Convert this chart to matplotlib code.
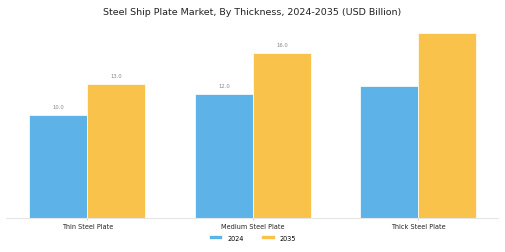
import numpy as np
import matplotlib.pyplot as plt

# --- Data ---
categories = ['Thin Steel Plate', 'Medium Steel Plate', 'Thick Steel Plate']
values_2024 = [10.0, 12.0, 12.8]
values_2035 = [13.0, 16.0, 17.9]
labelled = [True, True, False]

blue = '#5DB3E8'
yellow = '#F9C34B'

fig = plt.figure(figsize=(5.05, 2.53), dpi=100)
ax = fig.add_axes([0.012, 0.133, 0.974, 0.77])

x = np.arange(len(categories))
w = 0.35
b1 = ax.bar(x - w / 2, values_2024, w, color=blue, edgecolor='white', linewidth=0.5, label='2024')
b2 = ax.bar(x + w / 2, values_2035, w, color=yellow, edgecolor='white', linewidth=0.5, label='2035')

# value labels on the first two groups only
for i, show in enumerate(labelled):
    if not show:
        continue
    for bar in (b1[i], b2[i]):
        h = bar.get_height()
        ax.text(bar.get_x() + bar.get_width() / 2, h + 0.55, f"{h:.1f}",
                ha='center', va='bottom', fontsize=3.8, color='#888888')

ax.set_xlim(-0.49, 2.48)
ax.set_ylim(0, 18.8)
ax.set_xticks(x)
ax.set_xticklabels(categories, fontsize=4.7, color='#222222')
ax.set_yticks([])
ax.tick_params(axis='x', length=1.5, width=0.5, color='#bbbbbb', pad=1.5)
for s in ['top', 'right', 'left']:
    ax.spines[s].set_visible(False)
ax.spines['bottom'].set_color('#e6e6e6')
ax.spines['bottom'].set_linewidth(0.8)

fig.suptitle('Steel Ship Plate Market, By Thickness, 2024-2035 (USD Billion)',
             fontsize=6.8, color='#222222', y=0.97)

fig.legend(loc='lower center', bbox_to_anchor=(0.5, 0.022), ncol=2, frameon=False,
           fontsize=4.7, handlelength=2.1, handleheight=0.6, columnspacing=2.6)

fig.savefig('out.png', dpi=100)
